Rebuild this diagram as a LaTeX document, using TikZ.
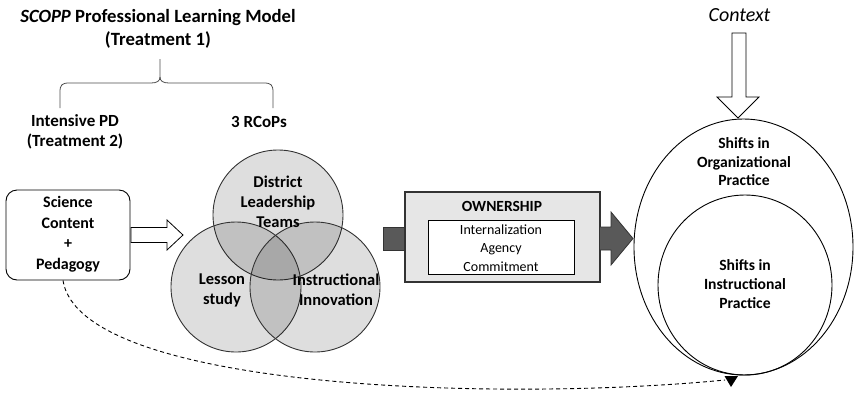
\documentclass[tikz,border=0pt]{standalone}
\usepackage{fontspec}
\setmainfont{Carlito}
\usetikzlibrary{shapes.geometric}
\definecolor{ownfill}{HTML}{E6E6E6}
\definecolor{darkarrow}{HTML}{595959}
\definecolor{edge}{HTML}{333333}
\begin{document}
\begin{tikzpicture}[x=1pt,y=-1pt,
  lbl/.style={align=center, inner sep=0pt},
  ttl/.style={lbl, font=\fontsize{18.7}{23}\selectfont\bfseries},
  sub/.style={lbl, font=\fontsize{17}{20}\selectfont\bfseries},
  big/.style={lbl, font=\fontsize{16}{20.5}\selectfont\bfseries},
  venntxt/.style={lbl, font=\fontsize{16.5}{20}\selectfont\bfseries},
  venn/.style={circle, draw=edge, line width=0.9pt, minimum size=130pt, inner sep=0pt, fill=black, fill opacity=#1, draw opacity=1},
  hollow/.style={draw=black, line width=0.8pt, fill=white},
  darkarr/.style={draw=edge, line width=0.8pt, fill=darkarrow},
  bracel/.style={draw=black!70, line width=0.8pt},
  ell/.style={ellipse, draw=black, line width=0.9pt, inner sep=0pt}
]
\useasboundingbox (0,0) rectangle (860,408);

% title and brace
\node[ttl] (title) at (158,29) {\textit{SCOPP} Professional Learning Model\\(Treatment 1)};
\draw[bracel] (60,108) -- (60,92) .. controls (60,85) and (62,83) .. (69,83) -- (151,83) .. controls (157,83) and (160,81) .. (160,77) -- (160,59);
\draw[bracel] (273,108) -- (273,92) .. controls (273,85) and (271,83) .. (264,83) -- (169,83) .. controls (163,83) and (160,81) .. (160,77);
\node[sub] (ipd) at (75,132) {Intensive PD\\(Treatment 2)};
\node[sub] (rcop) at (259,122) {3 RCoPs};

% science box
\node[draw=black, line width=0.9pt, rounded corners=11pt, minimum width=124pt, minimum height=90pt, inner sep=0pt] (sci) at (68,235) {};
\node[big] (scitxt) at (68,234) {Science\\Content\\+\\Pedagogy};

% hollow arrow to venn
\draw[hollow] (131,227.5) -- (167,227.5) -- (167,220) -- (183,235) -- (167,250) -- (167,242.5) -- (131,242.5) -- cycle;

% venn
\node[venn=0.13] (dlt) at (278,215) {};
\node[venn=0.13] (ls) at (236,287) {};
\node[venn=0.13] (ii) at (315,287) {};
\node[venntxt] (dlttxt) at (278,202) {District\\Leadership\\Teams};
\node[venntxt] (lstxt) at (222,290) {Lesson\\study};
\node[venntxt] (iitxt) at (336,290) {Instructional\\Innovation};

% ownership
\draw[darkarr] (383,227) rectangle (406,250);
\node[draw=edge, line width=1.1pt, fill=ownfill, minimum width=195pt, minimum height=90pt, inner sep=0pt] (own) at (502.5,237) {};
\node[lbl, font=\fontsize{15.5}{18}\selectfont\bfseries] (owntitle) at (502,206) {OWNERSHIP};
\node[draw=black, line width=1pt, fill=white, minimum width=146pt, minimum height=54pt, inner sep=0pt] (inner) at (501,247) {};
\node[lbl, font=\fontsize{14}{18.5}\selectfont] (innertxt) at (501,248) {Internalization\\Agency\\Commitment};
\draw[darkarr] (600,227) -- (611,227) -- (611,212) -- (633,238.5) -- (611,265) -- (611,250) -- (600,250);

% context
\node[lbl, font=\fontsize{20}{24}\selectfont\itshape] (ctx) at (739.5,15) {Context};
\draw[hollow] (732,33) -- (746,33) -- (746,97) -- (759,97) -- (738,118) -- (717,97) -- (732,97) -- cycle;

% ellipses
\node[ell, minimum width=219pt, minimum height=256pt] (org) at (743.5,247) {};
\node[ell, minimum width=174pt, minimum height=180pt] (ins) at (745,285) {};
\node[lbl, font=\fontsize{15.6}{18.5}\selectfont\bfseries] (orgtxt) at (744,162) {Shifts in\\Organizational\\Practice};
\node[lbl, font=\fontsize{15.6}{19}\selectfont\bfseries] (instxt) at (745,284) {Shifts in\\Instructional\\Practice};

% dashed connector
\coordinate (dend) at (725,380);
\draw[line width=0.9pt, dash pattern=on 4pt off 3pt] ([xshift=-5pt]sci.south) .. controls (80,390) and (500,402) .. (dend);
\fill (724.5,376) -- (738,376) -- (731,387) -- cycle;
\end{tikzpicture}
\end{document}
